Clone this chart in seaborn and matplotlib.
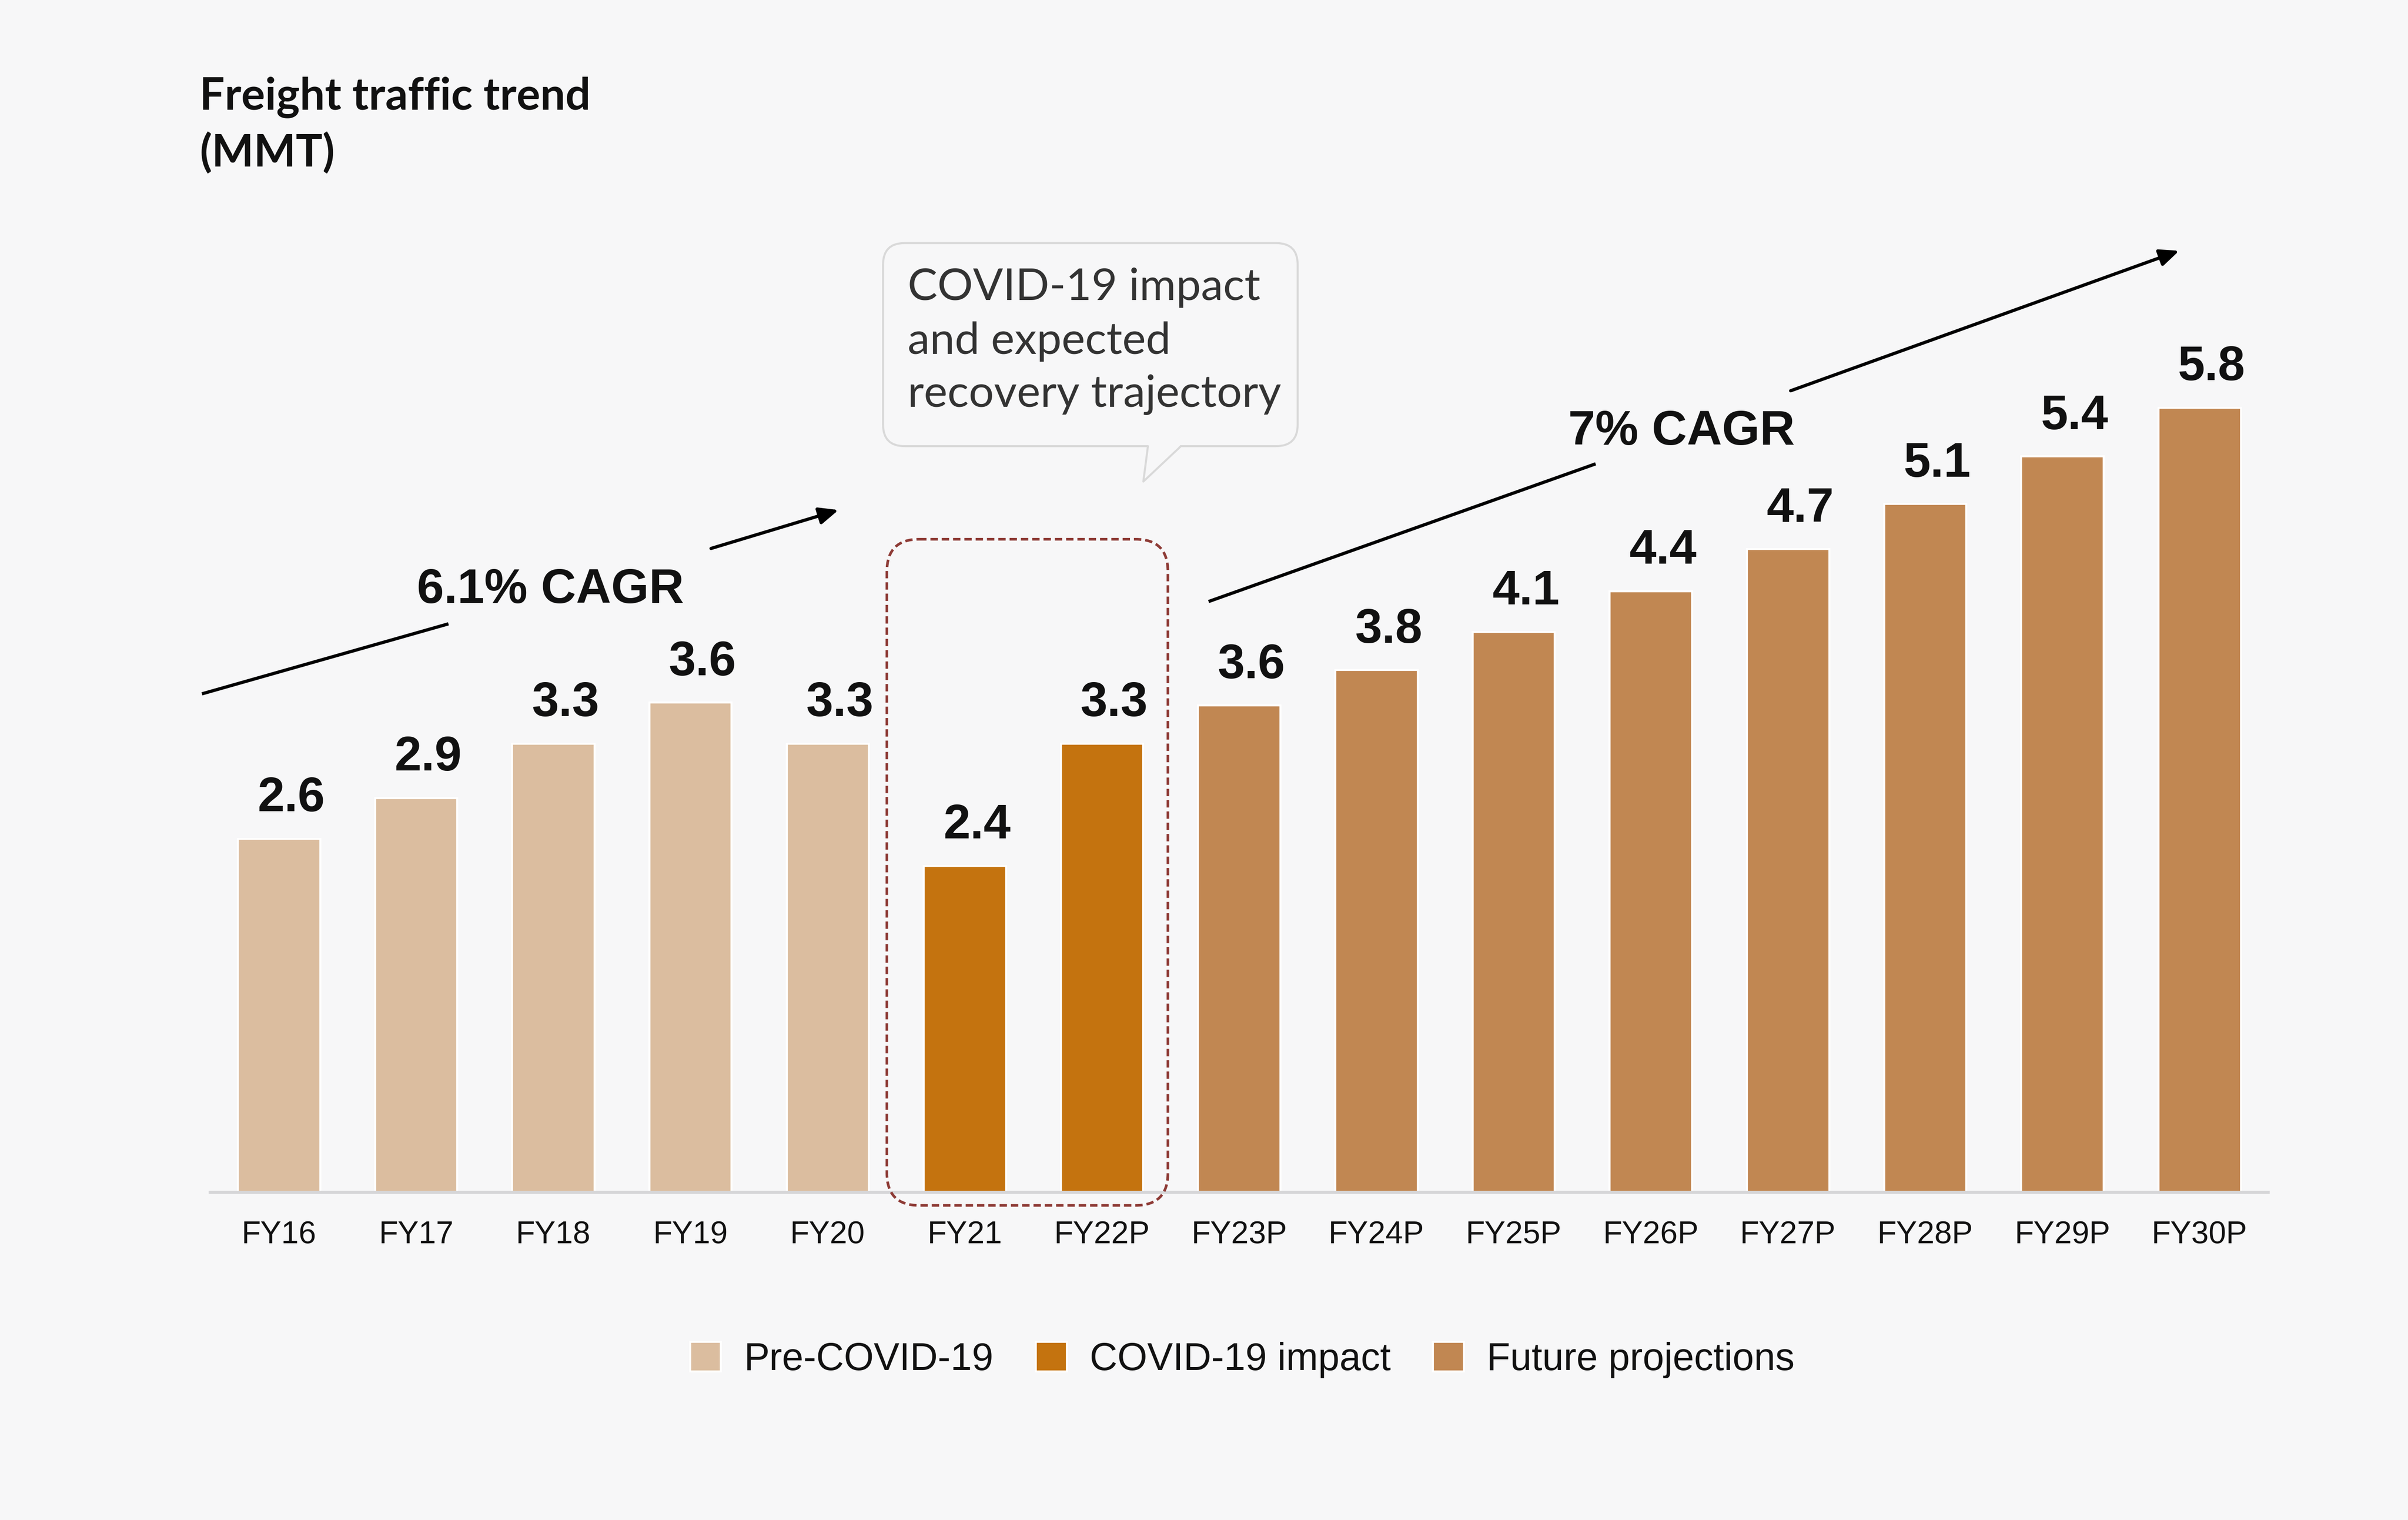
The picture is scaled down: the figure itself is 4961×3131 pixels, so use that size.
import matplotlib
matplotlib.use("Agg")
import matplotlib.pyplot as plt
import seaborn as sns
import pandas as pd
import numpy as np
from matplotlib.patches import FancyBboxPatch, Polygon
from matplotlib.lines import Line2D

# ---------------- data ----------------
years = ["FY16", "FY17", "FY18", "FY19", "FY20", "FY21", "FY22P", "FY23P",
         "FY24P", "FY25P", "FY26P", "FY27P", "FY28P", "FY29P", "FY30P"]
# bar heights
values = [2.6, 2.9, 3.3, 3.6, 3.3, 2.4, 3.3, 3.58, 3.84, 4.12, 4.42, 4.73, 5.06, 5.41, 5.77]
# printed value labels
value_labels = ["2.6", "2.9", "3.3", "3.6", "3.3", "2.4", "3.3", "3.6", "3.8",
                "4.1", "4.4", "4.7", "5.1", "5.4", "5.8"]
groups = (["Pre-COVID-19"] * 5 + ["COVID-19 impact"] * 2 + ["Future projections"] * 8)
group_names = ["Pre-COVID-19", "COVID-19 impact", "Future projections"]
group_colors = ["#DBBD9F", "#C4730F", "#C18752"]
title_lines = ["Freight traffic trend", "(MMT)"]
callout_lines = ["COVID-19 impact", "and expected", "recovery trajectory"]
cagr_left = "6.1% CAGR"
cagr_right = "7% CAGR"

BG = "#F7F7F8"
sns.set_theme(style="white")
plt.rcParams["font.family"] = ["Liberation Sans", "DejaVu Sans"]

fig = plt.figure(figsize=(4961 / 300, 3131 / 300), dpi=300, facecolor=BG)
RW, RH = 1568, 988  # reference layout grid


def fx(px):
    return px / RW


def fy(py):
    return 1 - py / RH


PX_PER_UNIT = 88.4
ax = fig.add_axes([fx(137), fy(775), fx(1477) - fx(137), fy(0) - fy(775)])
ax.set_facecolor(BG)

df = pd.DataFrame({"year": years, "value": values, "group": groups})
sns.barplot(data=df, x="year", y="value", hue="group", hue_order=group_names,
            order=years, palette=dict(zip(group_names, group_colors)),
            dodge=False, width=0.6, saturation=1, ax=ax, legend=True)

ax.set_xlim(-0.5, len(years) - 0.5)
ax.set_ylim(0, 775 / PX_PER_UNIT)
ax.set_xlabel("")
ax.set_ylabel("")
ax.set_yticks([])
ax.tick_params(axis="x", length=0, pad=14, labelsize=15.5, labelcolor="#111111")
for s in ["left", "top", "right"]:
    ax.spines[s].set_visible(False)
ax.spines["bottom"].set_color("#D6D6D8")
ax.spines["bottom"].set_linewidth(1.5)

for c in ax.containers:
    for bar in c:
        h = bar.get_height()
        if h is None or np.isnan(h):
            continue
        xc = bar.get_x() + bar.get_width() / 2
        idx = int(round(xc))
        ax.annotate(value_labels[idx], xy=(xc, h), xytext=(6, 8.5),
                    textcoords="offset points", ha="center", va="bottom",
                    fontsize=24, fontweight="bold", color="#111111")

handles, labels = ax.get_legend_handles_labels()
if ax.get_legend() is not None:
    ax.get_legend().remove()
fig.legend(handles, labels, loc="center", bbox_to_anchor=(fx(809), fy(884)),
           ncol=3, frameon=False, fontsize=19, handlelength=0.8,
           handleheight=0.8, handletextpad=0.6, columnspacing=1.1,
           labelcolor="#111111")

# ---------------- overlay annotations ----------------
ov = fig.add_axes([0, 0, 1, 1], zorder=5)
ov.set_xlim(0, RW)
ov.set_ylim(RH, 0)
ov.axis("off")
ov.patch.set_alpha(0)

# title
ov.text(130, 71, title_lines[0], fontsize=22, fontweight="bold",
        family=["Lato", "DejaVu Sans"], color="#111111", va="baseline", ha="left")
ov.text(130, 108, title_lines[1], fontsize=22, fontweight="bold",
        family=["Lato", "DejaVu Sans"], color="#111111", va="baseline", ha="left")

# callout box
box = FancyBboxPatch((575, 158), 270, 132,
                     boxstyle="round,pad=0,rounding_size=14",
                     facecolor=BG, edgecolor="#D9D9D9", linewidth=1.0)
ov.add_patch(box)
tail = Polygon([(747.5, 289), (744.5, 313), (769, 289)], closed=True,
               facecolor=BG, edgecolor="none")
ov.add_patch(tail)
ov.add_line(Line2D([747.5, 744.5, 769], [290, 313, 290], color="#D9D9D9",
                   linewidth=1.0))
for txt, yb in zip(callout_lines, [195, 230, 264.5]):
    ov.text(591, yb, txt, fontsize=22, family=["Lato", "DejaVu Sans"],
            color="#333333", va="baseline", ha="left")

# dashed highlight box
dbox = FancyBboxPatch((577.5, 350.5), 183, 433,
                      boxstyle="round,pad=0,rounding_size=21",
                      facecolor="none", edgecolor="#8E3B36", linewidth=1.3,
                      linestyle=(0, (2.8, 1.5)))
ov.add_patch(dbox)

# CAGR arrows
arrow_kw = dict(color="#000000", linewidth=1.6)
ov.add_line(Line2D([131.5, 292], [451, 405.5], solid_capstyle="butt", **arrow_kw))
ov.annotate("", xy=(546, 331.5), xytext=(463, 356.5),
            arrowprops=dict(arrowstyle="-|>,head_length=0.8,head_width=0.35",
                            mutation_scale=10, color="#000000", linewidth=1.6,
                            shrinkA=0, shrinkB=0))
ov.text(358.5, 392, cagr_left, fontsize=24, fontweight="bold", color="#111111",
        ha="center", va="baseline")

ov.add_line(Line2D([787, 1039], [391, 301.5], solid_capstyle="butt", **arrow_kw))
ov.annotate("", xy=(1419, 163), xytext=(1166, 254),
            arrowprops=dict(arrowstyle="-|>,head_length=0.8,head_width=0.35",
                            mutation_scale=10, color="#000000", linewidth=1.6,
                            shrinkA=0, shrinkB=0))
ov.text(1095, 289, cagr_right, fontsize=24, fontweight="bold", color="#111111",
        ha="center", va="baseline")

fig.savefig("out.png", dpi=300, facecolor=BG)
